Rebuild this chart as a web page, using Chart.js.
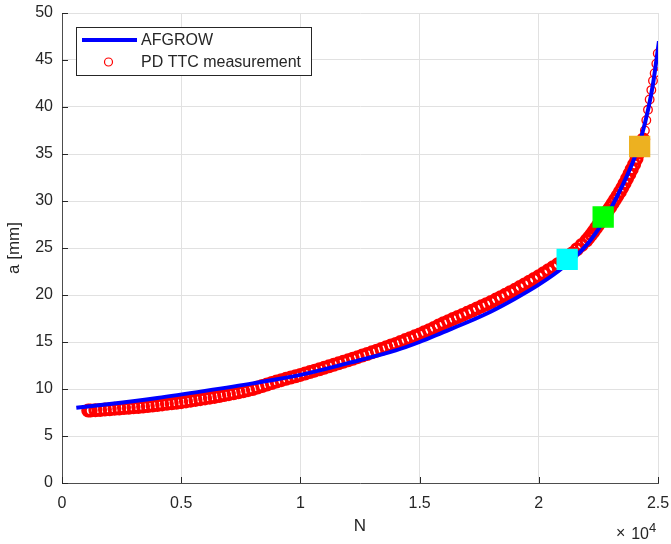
<!DOCTYPE html>
<html>
<head>
<meta charset="utf-8">
<script src="https://cdn.jsdelivr.net/npm/chart.js@4.4.1/dist/chart.umd.min.js"></script>
<style>
html, body { margin: 0; padding: 0; background: #fff; }
#wrap { width: 671px; height: 544px; }
</style>
</head>
<body>
<div id="wrap"><canvas id="crackChart" width="671" height="544"></canvas></div>
<script>
// AFGROW prediction (cycles, crack length mm)
const afgrowN = [600, 2000, 4000, 6000, 8000, 10000, 12000, 14000, 15000, 16000, 17000, 18000,
  19000, 20000, 21000, 22000, 22500, 23000, 23500, 24000, 24300, 24600, 24800, 24950, 25040];
const afgrowA = [8.0, 8.4, 9.05, 9.8, 10.6, 11.5, 12.75, 14.1, 15.0, 16.05, 17.1, 18.25,
  19.6, 21.1, 22.9, 25.3, 27.0, 29.1, 31.6, 34.5, 36.8, 39.9, 42.6, 45.3, 47.0];

const ttcN = [1100, 1200, 1400, 1600, 1800, 2000, 2200, 2400, 2600, 2800, 3000, 3200, 3400, 3600, 3800,
  4000, 4200, 4400, 4600, 4800, 5000, 5200, 5400, 5600, 5800, 6000, 6200, 6400, 6600, 6800,
  7000, 7200, 7400, 7600, 7800, 8000, 8200, 8400, 8600, 8800, 9000, 9200, 9400, 9600, 9800,
  10000, 10200, 10400, 10600, 10800, 11000, 11200, 11400, 11600, 11800, 12000, 12200, 12400, 12600, 12800,
  13000, 13200, 13400, 13600, 13800, 14000, 14200, 14400, 14600, 14800, 15000, 15200, 15400, 15600, 15800,
  16000, 16200, 16400, 16600, 16800, 17000, 17200, 17400, 17600, 17800, 18000, 18200, 18400, 18600, 18800,
  19000, 19200, 19400, 19600, 19800, 20000, 20200, 20400, 20600, 20800, 21000, 21200, 21400, 21600, 21800,
  22000, 22100, 22200, 22300, 22400, 22500, 22600, 22700, 22800, 22900, 23000, 23100, 23200, 23300, 23400,
  23500, 23600, 23700, 23800, 23900, 24000, 24100, 24200, 24300, 24380,
  24450, 24510, 24580, 24650, 24720, 24790, 24860, 24930, 24990];
const ttcA = [7.70, 7.72, 7.74, 7.77, 7.81, 7.85, 7.89, 7.93, 7.97, 8.01, 8.05, 8.09, 8.13, 8.19, 8.24,
  8.30, 8.36, 8.42, 8.48, 8.54, 8.60, 8.68, 8.76, 8.84, 8.92, 9.00, 9.08, 9.16, 9.25, 9.35,
  9.45, 9.55, 9.65, 9.76, 9.88, 10.00, 10.16, 10.32, 10.48, 10.64, 10.80, 10.94, 11.08, 11.22, 11.36,
  11.50, 11.65, 11.80, 11.95, 12.10, 12.25, 12.41, 12.57, 12.73, 12.89, 13.05, 13.22, 13.39, 13.56, 13.73,
  13.90, 14.08, 14.26, 14.44, 14.62, 14.80, 15.00, 15.20, 15.40, 15.60, 15.80, 16.03, 16.26, 16.50, 16.75,
  17.00, 17.22, 17.44, 17.66, 17.88, 18.10, 18.33, 18.56, 18.79, 19.02, 19.25, 19.51, 19.77, 20.03, 20.29,
  20.55, 20.84, 21.13, 21.42, 21.71, 22.00, 22.32, 22.64, 22.96, 23.28, 23.60, 24.00, 24.42, 24.86, 25.32,
  25.80, 26.10, 26.42, 26.76, 27.12, 27.48, 27.85, 28.22, 28.60, 28.98, 29.35, 29.75, 30.15, 30.55, 30.97,
  31.40, 31.88, 32.37, 32.87, 33.38, 33.90, 34.50, 35.15, 35.85, 36.55,
  37.5, 38.6, 39.7, 40.8, 41.8, 42.8, 43.6, 44.6, 45.7];

// highlighted states on the curve
const markN = [21190, 22700, 24230];
const markA = [23.8, 28.3, 35.8];

// axis ticks
const xTicks = [0, 5000, 10000, 15000, 20000, 25000];
const xTickLabels = ['0', '0.5', '1', '1.5', '2', '2.5'];
const yTicks = [0, 5, 10, 15, 20, 25, 30, 35, 40, 45, 50];

const FONT = "'Liberation Sans', Arial, Helvetica, sans-serif";
const TXT = '#262626';
const markColors = ['#00FFFF', '#00FF00', '#EDB120'];

function pts(xs, ys) {
    return xs.map(function(x, i) { return {x: x, y: ys[i]}; });
}

// dense part of the measurement looks like a solid band, the sparse tail shows single rings
function sparseTail(c) {
    return c.raw && c.raw.y > 37;
}

// inward ticks, x10^4 multiplier and the legend box (MATLAB look)
const decorPlugin = {
    id: 'decor',
    afterDraw: function(chart) {
        const ctx = chart.ctx;
        const xs = chart.scales.x;
        const ys = chart.scales.y;
        const area = chart.chartArea;
        ctx.save();

        // tick marks pointing into the axes
        ctx.strokeStyle = TXT;
        ctx.lineWidth = 1;
        ctx.beginPath();
        xTicks.forEach(function(v) {
            const px = Math.round(xs.getPixelForValue(v)) + 0.5;
            ctx.moveTo(px, area.bottom);
            ctx.lineTo(px, area.bottom - 6);
        });
        yTicks.forEach(function(v) {
            const py = Math.round(ys.getPixelForValue(v)) + 0.5;
            ctx.moveTo(area.left, py);
            ctx.lineTo(area.left + 6, py);
        });
        ctx.stroke();

        // exponent label
        ctx.fillStyle = TXT;
        ctx.textBaseline = 'alphabetic';
        ctx.font = '16px ' + FONT;
        ctx.textAlign = 'left';
        ctx.fillText('\u00d7', area.right - 42, 538);
        ctx.textAlign = 'right';
        ctx.fillText('10', area.right - 9, 539);
        ctx.font = '13px ' + FONT;
        ctx.textAlign = 'left';
        ctx.fillText('4', area.right - 9, 532);

        // legend
        const lx = 76.5, ly = 27.5, lw = 235, lh = 48;
        ctx.fillStyle = '#ffffff';
        ctx.fillRect(lx, ly, lw, lh);
        ctx.strokeStyle = TXT;
        ctx.lineWidth = 1;
        ctx.strokeRect(lx, ly, lw, lh);

        ctx.strokeStyle = '#0000FF';
        ctx.lineWidth = 4;
        ctx.beginPath();
        ctx.moveTo(82, 40);
        ctx.lineTo(137, 40);
        ctx.stroke();

        ctx.strokeStyle = '#FF0000';
        ctx.lineWidth = 1.2;
        ctx.beginPath();
        ctx.arc(108.5, 62, 4, 0, Math.PI * 2);
        ctx.stroke();

        ctx.fillStyle = TXT;
        ctx.font = '16px ' + FONT;
        ctx.textBaseline = 'middle';
        ctx.textAlign = 'left';
        ctx.fillText('AFGROW', 141, 41);
        ctx.fillText('PD TTC measurement', 141, 63);
        ctx.restore();
    }
};

const ctx = document.getElementById('crackChart');
new Chart(ctx.getContext('2d'), {
    type: 'scatter',
    data: {
        datasets: [
            {
                label: 'states',
                data: pts(markN, markA),
                pointStyle: 'rect',
                pointRadius: 14,
                borderWidth: 1.5,
                backgroundColor: markColors,
                borderColor: markColors,
                order: 0
            },
            {
                type: 'line',
                label: 'AFGROW',
                data: pts(afgrowN, afgrowA),
                borderColor: '#0000FF',
                borderWidth: 4,
                pointRadius: 0,
                fill: false,
                cubicInterpolationMode: 'monotone',
                order: 1
            },
            {
                label: 'PD TTC measurement',
                data: pts(ttcN, ttcA),
                pointStyle: 'circle',
                pointRadius: function(c) { return sparseTail(c) ? 4.3 : 5.4; },
                borderWidth: function(c) { return sparseTail(c) ? 1.3 : 3.2; },
                borderColor: '#FF0000',
                backgroundColor: 'rgba(0,0,0,0)',
                order: 2
            }
        ]
    },
    options: {
        responsive: false,
        animation: false,
        events: [],
        layout: { autoPadding: false, padding: { top: 13, right: 13, left: 0, bottom: 0 } },
        plugins: {
            legend: { display: false },
            tooltip: { enabled: false }
        },
        scales: {
            x: {
                type: 'linear',
                min: 0,
                max: 25000,
                afterBuildTicks: function(scale) {
                    scale.ticks = xTicks.map(function(v) { return {value: v}; });
                },
                afterFit: function(scale) {
                    scale.height = 61;
                    scale.paddingLeft = 0;
                    scale.paddingRight = 0;
                },
                ticks: {
                    autoSkip: false,
                    maxRotation: 0,
                    padding: 11,
                    color: TXT,
                    font: { family: FONT, size: 16 },
                    callback: function(v) { return xTickLabels[xTicks.indexOf(v)]; }
                },
                grid: { color: '#e1e1e1', drawTicks: false },
                border: { color: '#4d4d4d', width: 1 },
                title: {
                    display: true,
                    text: 'N',
                    color: TXT,
                    font: { family: FONT, size: 17 },
                    padding: { top: 0, bottom: 7 }
                }
            },
            y: {
                type: 'linear',
                min: 0,
                max: 50,
                afterBuildTicks: function(scale) {
                    scale.ticks = yTicks.map(function(v) { return {value: v}; });
                },
                afterFit: function(scale) {
                    scale.width = 62;
                    scale.paddingTop = 0;
                    scale.paddingBottom = 0;
                },
                ticks: {
                    padding: 9,
                    color: TXT,
                    font: { family: FONT, size: 16 }
                },
                grid: { color: '#e1e1e1', drawTicks: false },
                border: { color: '#4d4d4d', width: 1 },
                title: {
                    display: true,
                    text: 'a [mm]',
                    color: TXT,
                    font: { family: FONT, size: 17 },
                    padding: { top: 4, bottom: 0 }
                }
            }
        }
    },
    plugins: [decorPlugin]
});
</script>
</body>
</html>
